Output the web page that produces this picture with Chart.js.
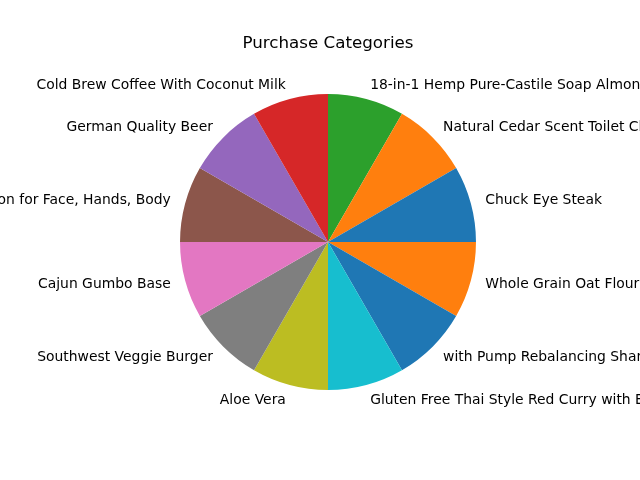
<!DOCTYPE html>
<html>
<head>
<meta charset="utf-8">
<script src="https://cdn.jsdelivr.net/npm/chart.js@4/dist/chart.umd.min.js"></script>
<style>
html,body{margin:0;padding:0;background:#fff;}
#wrap{width:640px;height:480px;position:relative;}
</style>
</head>
<body>
<div id="wrap"><canvas id="c" width="640" height="480"></canvas></div>
<script>
const categories = [
  "Chuck Eye Steak",
  "Natural Cedar Scent Toilet Cleaner",
  "18-in-1 Hemp Pure-Castile Soap Almond",
  "Cold Brew Coffee With Coconut Milk",
  "German Quality Beer",
  "Daily Moisturizing Lotion for Face, Hands, Body",
  "Cajun Gumbo Base",
  "Southwest Veggie Burger",
  "Aloe Vera",
  "Gluten Free Thai Style Red Curry with Brown Rice",
  "with Pump Rebalancing Shampoo",
  "Whole Grain Oat Flour"
];
const values = [1, 1, 1, 1, 1, 1, 1, 1, 1, 1, 1, 1];
const colors = ["#1f77b4","#ff7f0e","#2ca02c","#d62728","#9467bd","#8c564b",
                "#e377c2","#7f7f7f","#bcbd22","#17becf","#1f77b4","#ff7f0e"];
const titleText = "Purchase Categories";

// matplotlib draws counter-clockwise from 3 o'clock; Chart.js clockwise -> reverse
const revLabels = categories.slice().reverse();
const revValues = values.slice().reverse();
const revColors = colors.slice().reverse();

const FONT = "'DejaVu Sans', sans-serif";

const outsideLabels = {
  id: 'outsideLabels',
  afterDatasetsDraw(chart) {
    const ctx = chart.ctx;
    const meta = chart.getDatasetMeta(0);
    ctx.save();
    ctx.font = "13.9px " + FONT;
    ctx.fillStyle = "#000";
    ctx.textBaseline = "middle";
    meta.data.forEach((arc, i) => {
      const p = arc.getProps(['x','y','startAngle','endAngle','outerRadius'], true);
      const mid = (p.startAngle + p.endAngle) / 2;
      const r = p.outerRadius * 1.1;
      const lx = p.x + r * Math.cos(mid);
      const ly = p.y + r * Math.sin(mid) + 0.7;
      ctx.textAlign = (lx > p.x + 0.01) ? "left" : "right";
      ctx.fillText(chart.data.labels[i], lx, ly);
    });
    ctx.restore();
  }
};

new Chart(document.getElementById('c'), {
  type: 'pie',
  data: {
    labels: revLabels,
    datasets: [{
      data: revValues,
      backgroundColor: revColors,
      borderWidth: 0
    }]
  },
  options: {
    responsive: false,
    animation: false,
    rotation: 90,
    layout: { padding: { left: 180, right: 164, top: 0, bottom: 90 } },
    plugins: {
      legend: { display: false },
      tooltip: { enabled: false },
      title: {
        display: true,
        text: titleText,
        color: "#000",
        font: { family: FONT, size: 16.7, weight: 'normal', lineHeight: 1.2 },
        padding: { top: 34, bottom: 40 }
      }
    }
  },
  plugins: [outsideLabels]
});
</script>
</body>
</html>
